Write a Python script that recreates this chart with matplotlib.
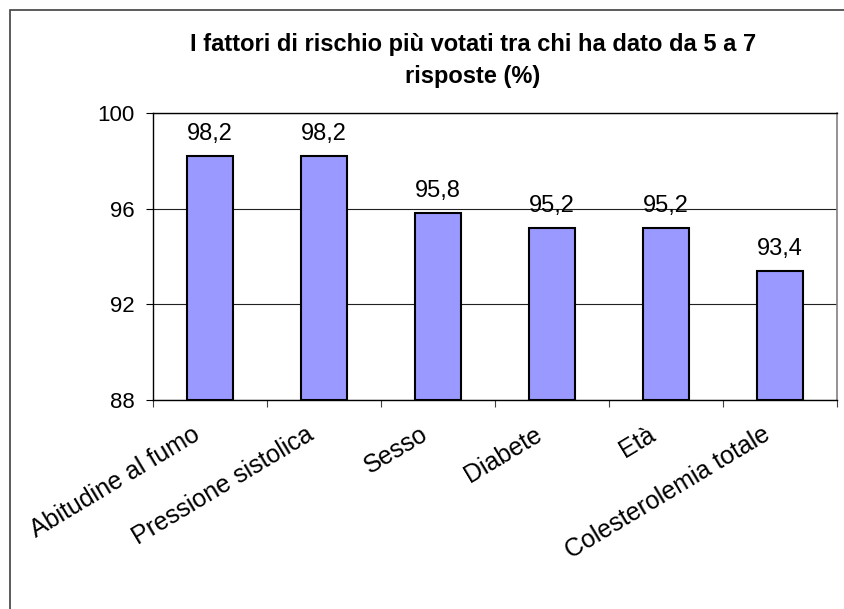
import matplotlib
matplotlib.use("Agg")
import matplotlib.pyplot as plt
import matplotlib.transforms as mtransforms
from matplotlib.patches import Rectangle

categories = ["Abitudine al fumo", "Pressione sistolica", "Sesso", "Diabete", "Età", "Colesterolemia totale"]
values = [98.2, 98.2, 95.8, 95.2, 95.2, 93.4]
yticks = [88, 92, 96, 100]
title = "I fattori di rischio più votati tra chi ha dato da 5 a 7\nrisposte (%)"

plt.rcParams['font.family'] = ['Liberation Sans', 'DejaVu Sans']

fig = plt.figure(figsize=(8.45, 6.09), dpi=100)
ax = fig.add_axes([153/845, 209/609, 684/845, 287/609])

x = list(range(len(categories)))
ax.bar(x, [v - 88 for v in values], bottom=88, width=0.4, color="#9999FF",
       edgecolor="black", linewidth=1.5, zorder=3)
for xi, v in zip(x, values):
    ax.text(xi, v + 0.68, str(v).replace(".", ","), ha="center", va="baseline", fontsize=17)

ax.set_xlim(-0.5, len(categories) - 0.5)
ax.set_ylim(88, 100)
ax.set_yticks(yticks)
ax.set_yticklabels([str(t) for t in yticks], fontsize=16)
ax.tick_params(axis="y", length=5, width=0.8, pad=8, color="black")
ax.yaxis.grid(True, color="#202020", linewidth=0.8, zorder=0)

ax.set_xticks(x)
ax.set_xticklabels(categories, fontsize=18, rotation=31, ha="right", va="top")
ax.tick_params(axis="x", which="major", length=0, pad=16)
ax.set_xticks([i - 0.5 for i in range(len(categories) + 1)], minor=True)
ax.tick_params(axis="x", which="minor", length=5, width=0.8, color="#404040")
off = mtransforms.ScaledTranslation(-6/100, 0, fig.dpi_scale_trans)
for lab in ax.get_xticklabels():
    lab.set_transform(lab.get_transform() + off)

for s in ["left", "bottom", "top"]:
    ax.spines[s].set_color("black")
    ax.spines[s].set_linewidth(1.0)
ax.spines["right"].set_color("#808080")
ax.spines["right"].set_linewidth(1.2)

fig.text(473/845, 1 - 33/609, title, ha="center", va="top", fontsize=17,
         fontweight="bold", linespacing=1.5)

fig.patches.append(Rectangle((10/845, -0.1), 2, 1.1 - 10/609, transform=fig.transFigure,
                             fill=False, edgecolor="#404040", linewidth=1.2))

plt.savefig("out.png", dpi=100)
